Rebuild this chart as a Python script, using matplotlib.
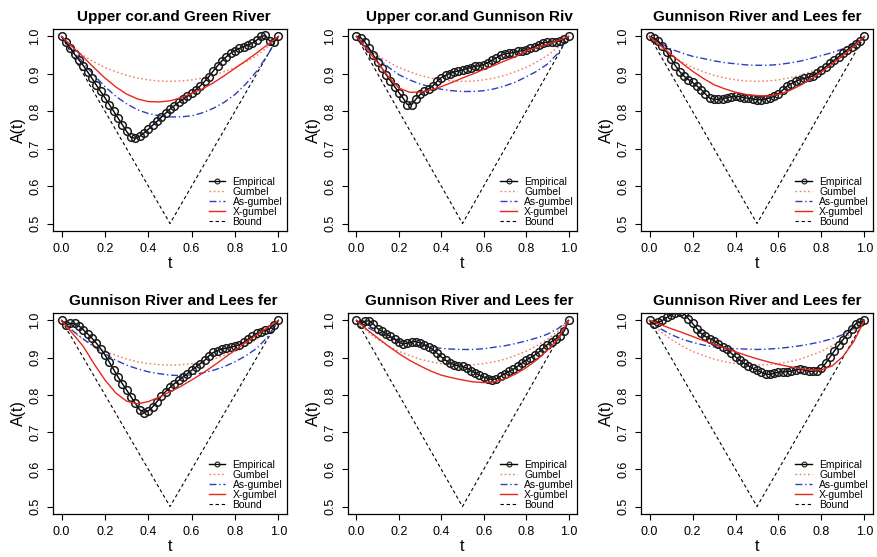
import numpy as np
import matplotlib
matplotlib.use("Agg")
import matplotlib.pyplot as plt

plt.rcParams['font.family'] = ['Liberation Sans', 'DejaVu Sans']

titles = ["Upper cor.and Green River", "Upper cor.and Gunnison Riv",
          "Gunnison River and Lees fer", "Gunnison River and Lees fer",
          "Gunnison River and Lees fer", "Gunnison River and Lees fer"]

t_emp = np.linspace(0, 1, 51)
t_mod = np.linspace(0, 1, 21)
t_bound = [0.0, 0.5, 1.0]
bound = [1.0, 0.5, 1.0]

gumbel = [1.000, 0.971, 0.949, 0.932, 0.917, 0.906, 0.896, 0.889, 0.884, 0.881, 0.880,
          0.881, 0.884, 0.889, 0.896, 0.906, 0.917, 0.932, 0.949, 0.971, 1.000]

emp1 = [1.000, 0.985, 0.968, 0.952, 0.937, 0.922, 0.905, 0.888, 0.870, 0.853,
        0.836, 0.818, 0.800, 0.782, 0.764, 0.746, 0.730, 0.728, 0.733, 0.742,
        0.752, 0.763, 0.773, 0.784, 0.795, 0.806, 0.815, 0.824, 0.832, 0.840,
        0.848, 0.858, 0.868, 0.880, 0.893, 0.908, 0.922, 0.935, 0.946, 0.955,
        0.962, 0.968, 0.973, 0.977, 0.982, 0.990, 1.000, 1.003, 0.988, 0.985, 1.000]
emp2 = [1.000, 0.997, 0.985, 0.968, 0.950, 0.932, 0.915, 0.898, 0.882, 0.866,
        0.850, 0.835, 0.818, 0.818, 0.832, 0.845, 0.853, 0.860, 0.868, 0.880,
        0.890, 0.896, 0.901, 0.905, 0.908, 0.911, 0.914, 0.917, 0.920, 0.922,
        0.925, 0.930, 0.937, 0.943, 0.950, 0.954, 0.955, 0.957, 0.960, 0.962,
        0.964, 0.968, 0.973, 0.978, 0.983, 0.985, 0.986, 0.986, 0.988, 0.993, 1.000]
emp3 = [1.000, 0.995, 0.988, 0.975, 0.958, 0.940, 0.922, 0.906, 0.894, 0.885,
        0.877, 0.868, 0.858, 0.846, 0.835, 0.832, 0.832, 0.834, 0.836, 0.839,
        0.840, 0.839, 0.836, 0.835, 0.833, 0.831, 0.831, 0.833, 0.836, 0.840,
        0.847, 0.857, 0.867, 0.874, 0.880, 0.885, 0.888, 0.891, 0.895, 0.902,
        0.910, 0.919, 0.928, 0.937, 0.946, 0.955, 0.964, 0.973, 0.980, 0.988, 1.000]
emp4 = [1.000, 0.988, 0.992, 0.992, 0.985, 0.975, 0.964, 0.952, 0.939, 0.924,
        0.907, 0.888, 0.868, 0.848, 0.830, 0.813, 0.795, 0.777, 0.760, 0.752,
        0.757, 0.768, 0.782, 0.796, 0.809, 0.820, 0.830, 0.839, 0.848, 0.857,
        0.866, 0.875, 0.884, 0.893, 0.905, 0.914, 0.919, 0.923, 0.926, 0.928,
        0.931, 0.935, 0.941, 0.949, 0.957, 0.965, 0.970, 0.973, 0.978, 0.988, 1.000]
emp5 = [1.000, 0.991, 0.998, 0.999, 0.990, 0.978, 0.971, 0.964, 0.957, 0.949,
        0.942, 0.937, 0.939, 0.943, 0.943, 0.940, 0.935, 0.929, 0.922, 0.912,
        0.902, 0.893, 0.886, 0.881, 0.878, 0.877, 0.872, 0.865, 0.859, 0.853,
        0.848, 0.844, 0.841, 0.843, 0.850, 0.857, 0.863, 0.869, 0.877, 0.885,
        0.893, 0.900, 0.907, 0.915, 0.925, 0.935, 0.943, 0.950, 0.958, 0.972, 1.000]
emp6 = [1.000, 0.991, 0.995, 1.000, 1.008, 1.015, 1.020, 1.022, 1.018, 1.005,
        0.992, 0.978, 0.965, 0.957, 0.951, 0.946, 0.938, 0.930, 0.922, 0.912,
        0.902, 0.893, 0.885, 0.878, 0.872, 0.866, 0.861, 0.856, 0.855, 0.858,
        0.861, 0.862, 0.862, 0.864, 0.867, 0.869, 0.867, 0.864, 0.863, 0.865,
        0.871, 0.885, 0.902, 0.918, 0.933, 0.948, 0.963, 0.978, 0.991, 0.996, 1.000]

asg1 = [1.000, 0.963, 0.929, 0.896, 0.866, 0.840, 0.820, 0.804, 0.794, 0.788, 0.785,
        0.785, 0.788, 0.796, 0.808, 0.824, 0.845, 0.873, 0.907, 0.950, 1.000]
asg2 = [1.000, 0.970, 0.943, 0.918, 0.898, 0.884, 0.873, 0.865, 0.859, 0.855, 0.853,
        0.853, 0.855, 0.860, 0.868, 0.878, 0.892, 0.907, 0.926, 0.955, 1.000]
asg3 = [1.000, 0.982, 0.966, 0.956, 0.947, 0.941, 0.935, 0.930, 0.927, 0.924, 0.923,
        0.923, 0.925, 0.929, 0.934, 0.941, 0.949, 0.957, 0.967, 0.980, 1.000]
asg4 = [1.000, 0.973, 0.950, 0.929, 0.910, 0.893, 0.880, 0.870, 0.862, 0.857, 0.853,
        0.852, 0.854, 0.859, 0.866, 0.876, 0.889, 0.905, 0.925, 0.955, 1.000]
asg5 = [1.000, 0.982, 0.967, 0.956, 0.947, 0.940, 0.934, 0.929, 0.925, 0.923, 0.922,
        0.922, 0.924, 0.928, 0.932, 0.938, 0.945, 0.953, 0.963, 0.978, 1.000]
asg6 = [1.000, 0.978, 0.962, 0.950, 0.941, 0.934, 0.929, 0.926, 0.924, 0.923, 0.922,
        0.923, 0.925, 0.928, 0.932, 0.937, 0.943, 0.951, 0.962, 0.978, 1.000]

xg1 = [1.000, 0.972, 0.945, 0.916, 0.889, 0.865, 0.846, 0.833, 0.826, 0.825, 0.828,
       0.836, 0.848, 0.860, 0.876, 0.895, 0.915, 0.935, 0.956, 0.978, 1.000]
xg2 = [1.000, 0.965, 0.930, 0.893, 0.862, 0.851, 0.851, 0.857, 0.866, 0.877, 0.889,
       0.900, 0.912, 0.923, 0.935, 0.946, 0.962, 0.970, 0.979, 0.989, 1.000]
xg3 = [1.000, 0.976, 0.952, 0.929, 0.907, 0.888, 0.871, 0.860, 0.851, 0.845, 0.842,
       0.841, 0.845, 0.855, 0.869, 0.886, 0.905, 0.926, 0.949, 0.974, 1.000]
xg4 = [1.000, 0.965, 0.930, 0.883, 0.840, 0.805, 0.783, 0.776, 0.782, 0.794, 0.808,
       0.823, 0.840, 0.858, 0.878, 0.899, 0.920, 0.941, 0.961, 0.981, 1.000]
xg5 = [1.000, 0.975, 0.953, 0.931, 0.911, 0.893, 0.878, 0.864, 0.853, 0.846, 0.840,
       0.835, 0.833, 0.835, 0.843, 0.856, 0.873, 0.894, 0.920, 0.950, 1.000]
xg6 = [1.000, 0.989, 0.978, 0.968, 0.957, 0.946, 0.936, 0.926, 0.916, 0.906, 0.897,
       0.889, 0.882, 0.876, 0.871, 0.867, 0.867, 0.878, 0.903, 0.943, 1.000]

emps = [emp1, emp2, emp3, emp4, emp5, emp6]
asgs = [asg1, asg2, asg3, asg4, asg5, asg6]
xgs = [xg1, xg2, xg3, xg4, xg5, xg6]

xticks = [0.0, 0.2, 0.4, 0.6, 0.8, 1.0]
yticks = [0.5, 0.6, 0.7, 0.8, 0.9, 1.0]

W, H = 877, 557
fig = plt.figure(figsize=(W / 100, H / 100), dpi=100)

cols = [(53, 287), (348, 577), (641, 873)]
rows = [(29, 231), (313, 514)]
title_x = [0.515, 0.53, 0.5]

c_gum = '#F47A62'
c_asg = '#2B3FBF'
c_xg = '#E8281E'

for i in range(6):
    r, c = divmod(i, 3)
    x0, x1 = cols[c]
    y0, y1 = rows[r]
    ax = fig.add_axes([x0 / W, 1 - y1 / H, (x1 - x0) / W, (y1 - y0) / H])
    ax.plot(t_bound, bound, color='black', lw=0.8, ls=(0, (3, 2.5)), label='Bound', zorder=2)
    ax.plot(t_mod, gumbel, color=c_gum, lw=1.0, ls=(0, (1.2, 1.8)), label='Gumbel', zorder=3)
    ax.plot(t_mod, asgs[i], color=c_asg, lw=1.0, ls=(0, (5, 2, 1, 2)), label='As-gumbel', zorder=3)
    ax.plot(t_emp, emps[i], color='black', lw=1.0, marker='o', ms=5.5, mfc='none',
            mec='#1a1a1a', mew=1.1, label='Empirical', zorder=4)
    ax.plot(t_mod, xgs[i], color=c_xg, lw=1.0, label='X-gumbel', zorder=5)

    ax.set_xlim(-0.04, 1.04)
    ax.set_ylim(0.48, 1.02)
    ax.set_xticks(xticks)
    ax.set_xticklabels([f"{v:.1f}" for v in xticks])
    ax.set_yticks(yticks)
    ax.set_yticklabels([f"{v:.1f}" for v in yticks], rotation=90, va='center')
    ax.tick_params(axis='both', direction='out', length=4.5, width=0.8,
                   labelsize=9, pad=4, colors='black')
    for s in ax.spines.values():
        s.set_linewidth(0.9)
    ax.set_title(titles[i], fontsize=11, fontweight='bold', pad=6, x=title_x[c])
    ax.set_xlabel('t', fontsize=11.5, labelpad=1)
    ax.set_ylabel('A(t)', fontsize=11.5, labelpad=2)

    h, l = ax.get_legend_handles_labels()
    order = ['Empirical', 'Gumbel', 'As-gumbel', 'X-gumbel', 'Bound']
    hs = [h[l.index(o)] for o in order]
    leg = ax.legend(hs, order, loc='lower left', bbox_to_anchor=(0.665, 0.02), frameon=False,
                    fontsize=7.5, labelspacing=0.0, handlelength=1.6, handletextpad=0.7,
                    borderpad=0, borderaxespad=0, numpoints=1)
    for lh in leg.legend_handles:
        if lh.get_label() == 'Empirical' or lh.get_marker() == 'o':
            lh.set_markersize(3.5)
            lh.set_markeredgewidth(0.8)

fig.savefig('out.png', dpi=100)
